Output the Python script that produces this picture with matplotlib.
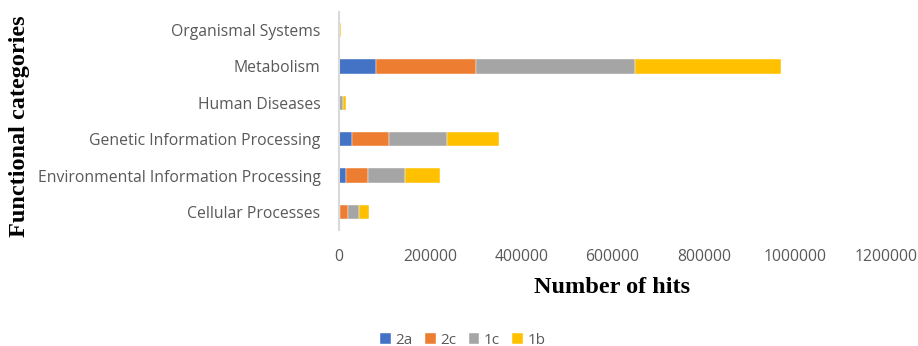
import matplotlib.pyplot as plt
import numpy as np

categories = ['Cellular Processes', 'Environmental Information Processing',
              'Genetic Information Processing', 'Human Diseases',
              'Metabolism', 'Organismal Systems']
series = ['2a', '2c', '1c', '1b']
s2a = [3500, 16000, 30000, 300, 82000, 200]
s2c = [17000, 48000, 81000, 1000, 218000, 500]
s1c = [25000, 81000, 127000, 8000, 350000, 1500]
s1b = [21000, 77000, 114000, 7000, 320000, 3500]
colors = ['#4472C4', '#ED7D31', '#A5A5A5', '#FFC000']

fig = plt.figure(figsize=(9.18, 3.46), dpi=100)
ax = fig.add_axes([338.5 / 918, 1 - 230 / 346, 548 / 918, 218 / 346])

y = np.arange(len(categories))
left = np.zeros(len(categories))
for name, vals, c in zip(series, [s2a, s2c, s1c, s1b], colors):
    ax.barh(y, vals, left=left, height=0.4, color=c, label=name,
            edgecolor='white', linewidth=0.3)
    left += np.array(vals)

ax.set_xlim(0, 1200000)
ax.set_ylim(-0.5, len(categories) - 0.5)
ax.set_xticks(np.arange(0, 1200001, 200000))
ax.set_xticklabels([str(v) for v in range(0, 1200001, 200000)])
ax.set_yticks(y)
ax.set_yticklabels(categories)
ax.tick_params(axis='both', length=0, labelsize=11.3, colors='#595959')
ax.tick_params(axis='y', pad=13)
ax.tick_params(axis='x', pad=14)
for lab in ax.get_xticklabels() + ax.get_yticklabels():
    lab.set_family('Open Sans')

for s in ['top', 'right', 'bottom']:
    ax.spines[s].set_visible(False)
ax.spines['left'].set_color('#d9d9d9')
ax.spines['left'].set_linewidth(1.5)

ax.set_xlabel('Number of hits', fontsize=17.5, fontweight='bold',
              family='Liberation Serif', labelpad=8)
fig.text(20 / 918, 1 - 126 / 346, 'Functional categories', rotation=90,
         fontsize=17.5, fontweight='bold', family='Liberation Serif',
         ha='center', va='center')

fig.legend(loc='center', bbox_to_anchor=(463 / 918, 1 - 340 / 346), ncol=4,
           frameon=False, handlelength=0.7, handleheight=0.7,
           handletextpad=0.3, columnspacing=0.8,
           prop={'family': 'Open Sans', 'size': 11}, labelcolor='#595959')

fig.savefig('out.png', dpi=100)
